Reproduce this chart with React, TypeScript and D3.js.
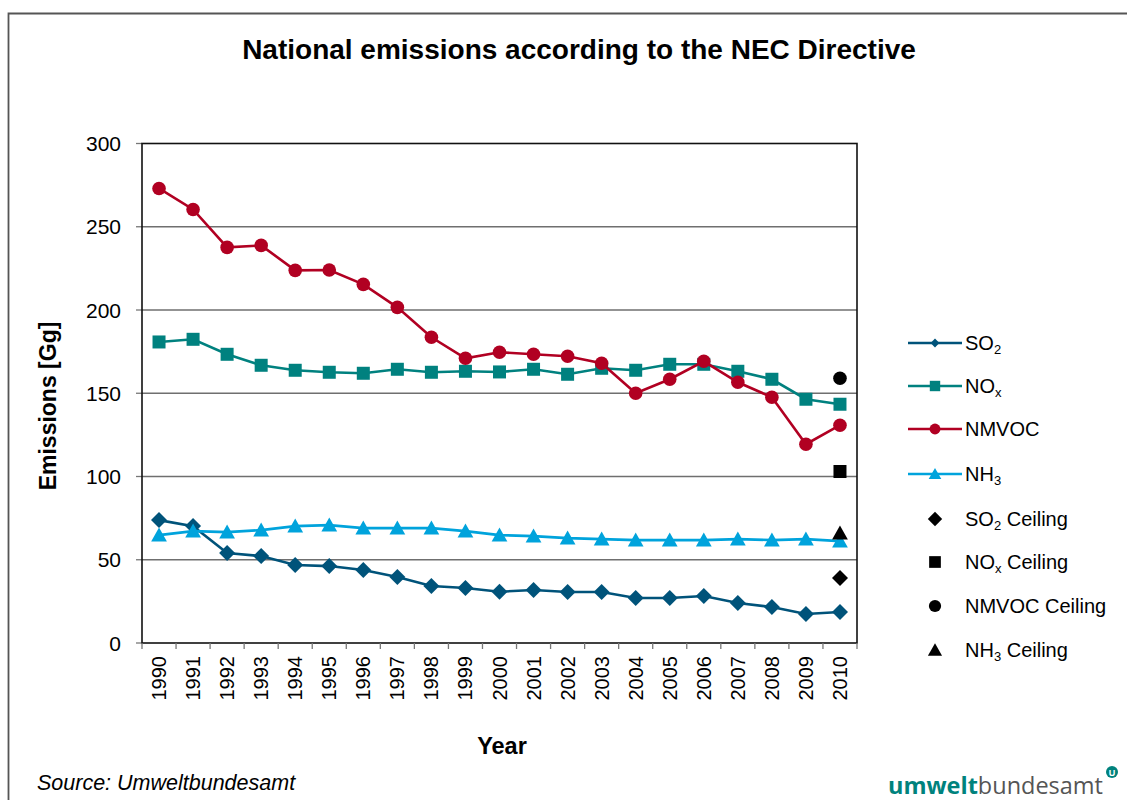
import React from "react";
import * as d3 from "d3";

const years = ["1990","1991","1992","1993","1994","1995","1996","1997","1998","1999","2000","2001","2002","2003","2004","2005","2006","2007","2008","2009","2010"];
const so2 = [73.8,70.2,54,52.2,46.8,46.2,43.8,39.6,34.2,33,30.8,31.8,30.6,30.6,27,27,28.2,24,21.6,17.4,18.6];
const nox = [180.8,182.4,173.4,166.8,163.8,162.6,162,164.4,162.6,163.2,162.8,164.4,161.4,165,163.8,167.4,167.4,163.2,158.4,146.4,143.4];
const nmvoc = [273,260.4,237.6,238.8,223.8,224,215.4,201.6,183.6,171,174.6,173.4,172.2,168,150,158.4,169.2,156.6,147.6,119.4,130.8];
const nh3 = [64.8,67.2,66.6,67.8,70.2,70.8,69,69,69,67.2,64.8,64.2,63,62.4,61.8,61.8,61.8,62.4,61.8,62.4,61.2];
const ceilingYear = "2010";
const ceilings = [39, 103, 159, 66]; // SO2, NOx, NMVOC, NH3
const yTicks = [0, 50, 100, 150, 200, 250, 300];

const FONT = "'Liberation Sans', Arial, sans-serif";

type Sym = "diamond" | "square" | "circle" | "triangle";

const series = [
  { name: "SO", sub: "2", values: so2, color: "#00537a", sym: "diamond" as Sym },
  { name: "NO", sub: "x", values: nox, color: "#00817f", sym: "square" as Sym },
  { name: "NMVOC", sub: "", values: nmvoc, color: "#b10022", sym: "circle" as Sym },
  { name: "NH", sub: "3", values: nh3, color: "#00a3dc", sym: "triangle" as Sym },
];

function Marker({ x, y, sym, color, s = 1 }: { x: number; y: number; sym: Sym; color: string; s?: number }) {
  if (sym === "diamond") {
    const r = 8 * s;
    return <path d={`M${x},${y - r}L${x + r},${y}L${x},${y + r}L${x - r},${y}Z`} fill={color} />;
  }
  if (sym === "square") {
    const h = 6.5 * s;
    return <rect x={x - h} y={y - h} width={2 * h} height={2 * h} fill={color} />;
  }
  if (sym === "circle") {
    return <circle cx={x} cy={y} r={6.8 * s} fill={color} />;
  }
  const h = 7.5 * s;
  return <path d={`M${x},${y - h}L${x + h * 1.05},${y + h * 0.85}L${x - h * 1.05},${y + h * 0.85}Z`} fill={color} />;
}

export default function App() {
  const W = 1127, H = 800;
  const left = 142, right = 857, top = 143.5, bottom = 643;
  const x = d3.scaleBand().domain(years).range([left, right]);
  const y = d3.scaleLinear().domain([0, 300]).range([bottom, top]);
  const cx = (yr: string) => (x(yr) as number) + x.bandwidth() / 2;
  const line = d3.line<number>().x((_, i) => cx(years[i])).y((v) => y(v));

  const legendX = 935;
  const legendRows = [343, 386, 429, 474, 519, 562, 606, 650];

  return (
    <svg width={W} height={H} style={{ position: "absolute", left: 0, top: 0, fontFamily: FONT }}>
      <rect x={0} y={0} width={W} height={H} fill="#fff" />
      <path d={`M8.5,${H + 5}V13.5H${W + 5}`} fill="none" stroke="#555" strokeWidth={1.8} />
      <text x={579} y={59} textAnchor="middle" fontSize={28} fontWeight="bold" fill="#000">
        National emissions according to the NEC Directive
      </text>

      {/* gridlines */}
      {yTicks.map((t) => (
        <g key={t}>
          {t > 0 && t < 300 && <line x1={left} x2={right} y1={y(t)} y2={y(t)} stroke="#6f6f6f" strokeWidth={1.3} />}
          <line x1={136} x2={left} y1={y(t)} y2={y(t)} stroke="#777" strokeWidth={1.3} />
          <text x={121} y={y(t) + 7.5} textAnchor="end" fontSize={21} fill="#000">{t}</text>
        </g>
      ))}
      <rect x={left} y={top} width={right - left} height={bottom - top} fill="none" stroke="#111" strokeWidth={1.6} />

      {/* x ticks */}
      {years.map((yr, i) => (
        <line key={"t" + yr} x1={left + i * x.bandwidth()} x2={left + i * x.bandwidth()} y1={bottom} y2={649} stroke="#777" strokeWidth={1.3} />
      ))}
      <line x1={right} x2={right} y1={bottom} y2={649} stroke="#777" strokeWidth={1.3} />
      {years.map((yr) => (
        <text key={"l" + yr} transform={`translate(${cx(yr) + 7},656) rotate(-90)`} textAnchor="end" fontSize={20} fill="#000">{yr}</text>
      ))}

      <text transform={`translate(56,406) rotate(-90)`} textAnchor="middle" fontSize={23} fontWeight="bold" fill="#000">Emissions [Gg]</text>
      <text x={502} y={754} textAnchor="middle" fontSize={23.5} fontWeight="bold" fill="#000">Year</text>

      {/* series */}
      {series.map((s) => (
        <g key={s.name}>
          <path d={line(s.values) as string} fill="none" stroke={s.color} strokeWidth={2.6} />
          {s.values.map((v, i) => (
            <Marker key={i} x={cx(years[i])} y={y(v)} sym={s.sym} color={s.color} />
          ))}
        </g>
      ))}
      {series.map((s, i) => (
        <Marker key={"c" + i} x={cx(ceilingYear)} y={y(ceilings[i])} sym={s.sym} color="#000" />
      ))}

      {/* legend */}
      {series.map((s, i) => (
        <g key={"lg" + i}>
          <line x1={908} x2={962} y1={legendRows[i]} y2={legendRows[i]} stroke={s.color} strokeWidth={2.6} />
          <Marker x={legendX} y={legendRows[i]} sym={s.sym} color={s.color} s={s.sym === "diamond" ? 0.55 : 0.8} />
          <text x={965} y={legendRows[i] + 7} fontSize={20} fill="#000">
            {s.name}
            {s.sub && <tspan fontSize={13} dy={4}>{s.sub}</tspan>}
          </text>
        </g>
      ))}
      {series.map((s, i) => {
        const ry = legendRows[i + 4];
        return (
          <g key={"lc" + i}>
            <Marker x={legendX} y={ry} sym={s.sym} color="#000" s={0.9} />
            <text x={965} y={ry + 7} fontSize={20} fill="#000">
              {s.name}
              {s.sub && <tspan fontSize={13} dy={4}>{s.sub}</tspan>}
              <tspan dy={s.sub ? -4 : 0}>{" Ceiling"}</tspan>
            </text>
          </g>
        );
      })}

      <text x={37} y={790} fontSize={21.5} fontStyle="italic" fill="#000">Source: Umweltbundesamt</text>

      {/* logo */}
      <text x={888} y={794} fontSize={24} fill="#555" fontFamily="'Open Sans', sans-serif" textLength={215} lengthAdjust="spacingAndGlyphs">
        <tspan fill="#00827d" fontWeight="bold">umwelt</tspan>
        <tspan fill="#555">bundesamt</tspan>
      </text>
      <circle cx={1112} cy={772} r={6} fill="#00827d" />
      <text x={1112} y={775.5} textAnchor="middle" fontSize={9} fontWeight="bold" fill="#fff">U</text>
    </svg>
  );
}
